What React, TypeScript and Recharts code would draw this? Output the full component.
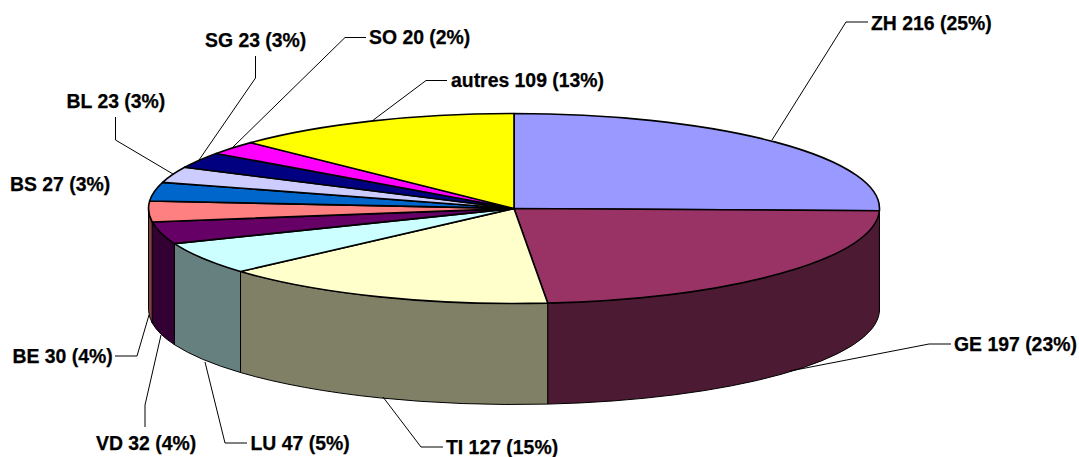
import React from "react";
import { PieChart, Pie } from "recharts";

const CANTONS = ["ZH", "GE", "TI", "LU", "VD", "BE", "BS", "BL", "SG", "SO", "autres"];
const COUNTS = [216, 197, 127, 47, 32, 30, 27, 23, 23, 20, 109];
const PERCENTS = [25, 23, 15, 5, 4, 4, 3, 3, 3, 2, 13];
const COLORS = ["#9999ff", "#993366", "#ffffcc", "#ccffff", "#660066", "#ff8080", "#0066cc", "#ccccff", "#000080", "#ff00ff", "#ffff00"];

const chartData = CANTONS.map((name, i) => ({ name, value: COUNTS[i], fill: COLORS[i], pct: PERCENTS[i] }));

const WIDTH = 1079;
const HEIGHT = 457;
const CX = 514;
const CY = 208.5;
const RX = 365.5;
const RY = 95;
const DEPTH = 101;

// label anchor and leader line, per canton
const LABELS: Record<string, { x: number; y: number; line?: string }> = {
  ZH: { x: 871, y: 30, line: "772,140 846,22 868,22" },
  GE: { x: 954, y: 351, line: "790,371 929,344 951,344" },
  TI: { x: 446, y: 454, line: "383,397 421,447 443,447" },
  LU: { x: 250.5, y: 450, line: "205,362 225,443 247,443" },
  VD: { x: 96, y: 450, line: "161,335 145,405 145,427" },
  BE: { x: 12.5, y: 363, line: "149,315 137,356 115,356" },
  BS: { x: 10, y: 191 },
  BL: { x: 66.5, y: 108, line: "173,174 115.5,140 115.5,117" },
  SG: { x: 205, y: 47, line: "199,160 255.5,78 255.5,56" },
  SO: { x: 369, y: 44, line: "232,148 345,37.5 366,37.5" },
  autres: { x: 451, y: 87, line: "372,121 426,80.5 447,80.5" },
};

const point = (cx: number, cy: number, rx: number, deg: number) => {
  const a = (deg * Math.PI) / 180;
  return { x: cx + rx * Math.cos(a), y: cy - (rx * RY / RX) * Math.sin(a) };
};

const darken = (hex: string) => {
  const n = parseInt(hex.slice(1), 16);
  const half = (v: number) => Math.round(v / 2).toString(16).padStart(2, "0");
  return `#${half((n >> 16) & 255)}${half((n >> 8) & 255)}${half(n & 255)}`;
};

// flattened slice, the pie's own angles on an ellipse
function TopSlice(props: any) {
  const { cx, cy, outerRadius, startAngle, endAngle, fill } = props;
  const ry = (outerRadius * RY) / RX;
  const p1 = point(cx, cy, outerRadius, startAngle);
  const p2 = point(cx, cy, outerRadius, endAngle);
  const large = Math.abs(startAngle - endAngle) > 180 ? 1 : 0;
  const d = `M${cx},${cy} L${p1.x},${p1.y} A${outerRadius},${ry} 0 ${large} 1 ${p2.x},${p2.y} Z`;
  return <path d={d} fill={fill} stroke="#000" strokeWidth={1.6} strokeLinejoin="round" />;
}

// outer wall, only the front half of the ellipse shows
function WallSlice(props: any) {
  const { cx, cy, outerRadius, startAngle, endAngle, fill } = props;
  const a1 = Math.min(startAngle, 0);
  const a2 = Math.max(endAngle, -180);
  if (a1 <= a2) return null;
  const ry = (outerRadius * RY) / RX;
  const p1 = point(cx, cy, outerRadius, a1);
  const p2 = point(cx, cy, outerRadius, a2);
  const d =
    `M${p1.x},${p1.y} A${outerRadius},${ry} 0 0 1 ${p2.x},${p2.y} ` +
    `L${p2.x},${p2.y + DEPTH} A${outerRadius},${ry} 0 0 0 ${p1.x},${p1.y + DEPTH} Z`;
  return <path d={d} fill={darken(fill)} stroke="#000" strokeWidth={1} strokeLinejoin="round" />;
}

function SliceLabel(props: any) {
  const { index } = props;
  const d = chartData[index];
  const pos = LABELS[d.name];
  return (
    <g>
      {pos.line && <polyline points={pos.line} fill="none" stroke="#000" strokeWidth={1} />}
      <text
        x={pos.x}
        y={pos.y}
        fill="#000"
        stroke="#000"
        strokeWidth={0.25}
        fontFamily="'Liberation Sans', Arial, sans-serif"
        fontWeight={700}
        fontSize={19.4}
      >
        {`${d.name} ${d.value} (${d.pct}%)`}
      </text>
    </g>
  );
}

export default function App() {
  return (
    <div style={{ position: "absolute", left: 0, top: 0, width: WIDTH, height: HEIGHT, background: "#fff" }}>
      <PieChart width={WIDTH} height={HEIGHT} margin={{ top: 0, right: 0, bottom: 0, left: 0 }}>
        <Pie
          data={chartData}
          dataKey="value"
          cx={CX}
          cy={CY}
          outerRadius={RX}
          startAngle={90}
          endAngle={-270}
          isAnimationActive={false}
          shape={WallSlice}
        />
        <Pie
          data={chartData}
          dataKey="value"
          cx={CX}
          cy={CY}
          outerRadius={RX}
          startAngle={90}
          endAngle={-270}
          isAnimationActive={false}
          shape={TopSlice}
          label={SliceLabel}
          labelLine={false}
        />
      </PieChart>
    </div>
  );
}
